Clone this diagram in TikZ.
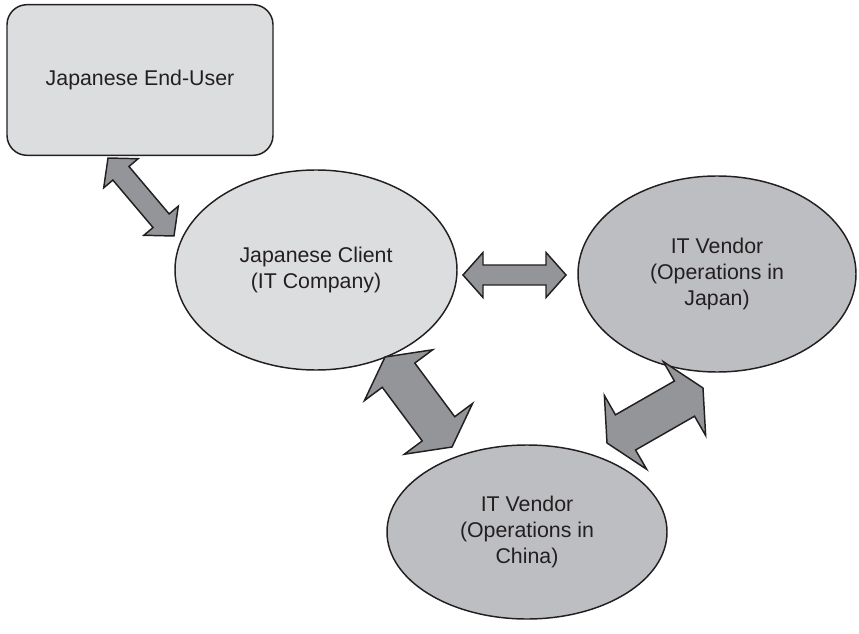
\documentclass[tikz,border=0pt]{standalone}
\usepackage{fontspec}
\setmainfont{Liberation Sans}
\usetikzlibrary{calc,shapes.geometric}
\definecolor{lightfill}{HTML}{DCDDDF}
\definecolor{vendorfill}{HTML}{BDBEC1}
\definecolor{arrowfill}{HTML}{939598}
\definecolor{ink}{HTML}{231F20}

\tikzset{
  party/.style={draw=ink, line width=1.1pt, text=ink, align=center,
    font=\fontsize{16}{19.5}\selectfont},
  linkarrow/.style={draw=ink, fill=arrowfill, line width=1.1pt, line join=miter}
}

% block arrow with two heads: from #1 to #2, half shaft #3, half head #4, head length #5
\newcommand{\twoway}[5]{%
  \filldraw[linkarrow] (#1)
    -- ($(#1)!#5!(#2)!#4!90:(#2)$) -- ($(#1)!#5!(#2)!#3!90:(#2)$)
    -- ($(#2)!#5!(#1)!#3!-90:(#1)$) -- ($(#2)!#5!(#1)!#4!-90:(#1)$)
    -- (#2)
    -- ($(#2)!#5!(#1)!#4!90:(#1)$) -- ($(#2)!#5!(#1)!#3!90:(#1)$)
    -- ($(#1)!#5!(#2)!#3!-90:(#2)$) -- ($(#1)!#5!(#2)!#4!-90:(#2)$)
    -- cycle;}

\begin{document}
\begin{tikzpicture}[x=0.75pt, y=-0.75pt]
	\useasboundingbox (0,0) rectangle (859,634);

	\node[party, fill=lightfill, rectangle, rounded corners=15pt,
	      minimum width=199.5pt, minimum height=113pt] (enduser) at (140,80) {Japanese End-User};
	\node[party, fill=lightfill, ellipse, minimum width=211.5pt, minimum height=150pt]
	      (client) at (316,270) {Japanese Client\\(IT Company)};
	\node[party, fill=vendorfill, ellipse, minimum width=208.5pt, minimum height=147pt]
	      (japan) at (717,274) {IT Vendor\\(Operations in\\Japan)};
	\node[party, fill=vendorfill, ellipse, minimum width=210pt, minimum height=130.5pt]
	      (china) at (527,532) {IT Vendor\\(Operations in\\China)};

	% arrow tips
	\coordinate (userend) at (108,158);
	\coordinate (clientnw) at (174,236);
	\coordinate (clientee) at (463,275);
	\coordinate (japanww) at (566,275);
	\coordinate (clientss) at (385,357);
	\coordinate (chinanw) at (452,447);
	\coordinate (chinane) at (607,443);
	\coordinate (japanss) at (703,388);

	\twoway{userend}{clientnw}{7.9pt}{16.9pt}{15pt}
	\twoway{clientee}{japanww}{7.5pt}{16.9pt}{15pt}
	\twoway{clientss}{chinanw}{15.2pt}{31.9pt}{17pt}
	\twoway{chinane}{japanss}{15.2pt}{31.9pt}{16pt}

\end{tikzpicture}
\end{document}
